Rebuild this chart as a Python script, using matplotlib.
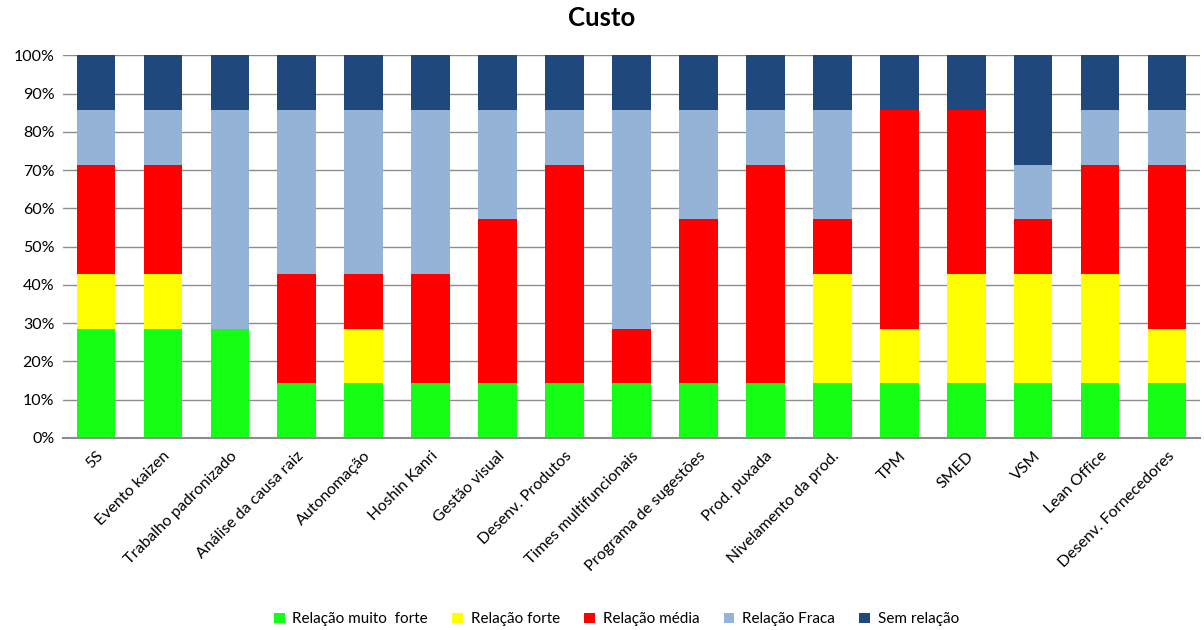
import numpy as np
import matplotlib.pyplot as plt
from matplotlib.ticker import PercentFormatter

plt.rcParams['font.family'] = ['Lato', 'DejaVu Sans']

# ferramentas lean avaliadas
categorias = ['5S', 'Evento kaizen', 'Trabalho padronizado', 'Análise da causa raiz',
              'Autonomação', 'Hoshin Kanri', 'Gestão visual', 'Desenv. Produtos',
              'Times multifuncionais', 'Programa de sugestões', 'Prod. puxada',
              'Nivelamento da prod.', 'TPM', 'SMED', 'VSM', 'Lean Office',
              'Desenv. Fornecedores']

# numero de respostas por tipo de relacao (7 respondentes)
muito_forte = [2, 2, 2, 1, 1, 1, 1, 1, 1, 1, 1, 1, 1, 1, 1, 1, 1]
forte       = [1, 1, 0, 0, 1, 0, 0, 0, 0, 0, 0, 2, 1, 2, 2, 2, 1]
media       = [2, 2, 0, 2, 1, 2, 3, 4, 1, 3, 4, 1, 4, 3, 1, 2, 3]
fraca       = [1, 1, 4, 3, 3, 3, 2, 1, 4, 2, 1, 2, 0, 0, 1, 1, 1]
sem_relacao = [1, 1, 1, 1, 1, 1, 1, 1, 1, 1, 1, 1, 1, 1, 2, 1, 1]

series = [
    ('Relação muito  forte', muito_forte, '#14FF14'),
    ('Relação forte', forte, '#FFFF00'),
    ('Relação média', media, '#FF0000'),
    ('Relação Fraca', fraca, '#95B3D7'),
    ('Sem relação', sem_relacao, '#1F497D'),
]

dados = np.array([s[1] for s in series], dtype=float)
pct = dados / dados.sum(axis=0) * 100

fig = plt.figure(figsize=(12.04, 6.30), dpi=100)
ax = fig.add_axes([0.052, 0.305, 0.945, 0.607])

x = np.arange(len(categorias))
base = np.zeros(len(categorias))
for (nome, _, cor), valores in zip(series, pct):
    ax.bar(x, valores, bottom=base, width=0.58, color=cor, label=nome, zorder=3)
    base += valores

ax.set_ylim(0, 100)
ax.set_xlim(-0.5, len(categorias) - 0.5)
ax.set_yticks(np.arange(0, 101, 10))
ax.yaxis.set_major_formatter(PercentFormatter(decimals=0))
ax.yaxis.grid(True, color='#8C8C8C', linewidth=1, zorder=0)
ax.tick_params(axis='y', length=0, labelsize=11.5, pad=6, colors='#000000')
ax.tick_params(axis='x', length=0, labelsize=11.5, pad=8)
ax.set_xticks(x)
ax.set_xticklabels(categorias, rotation=45, ha='right', rotation_mode='anchor')

for lado in ['top', 'right', 'left']:
    ax.spines[lado].set_visible(False)
ax.spines['bottom'].set_color('#8C8C8C')
ax.spines['bottom'].set_linewidth(1.5)
ax.spines['bottom'].set_zorder(4)

fig.suptitle('Custo', fontsize=18.5, fontweight='bold', y=0.99)

fig.legend(loc='lower center', ncol=5, frameon=False, fontsize=11,
           bbox_to_anchor=(0.512, -0.016), handlelength=0.7, handleheight=0.7,
           columnspacing=1.6, handletextpad=0.5)

fig.savefig('out.png', dpi=100)
